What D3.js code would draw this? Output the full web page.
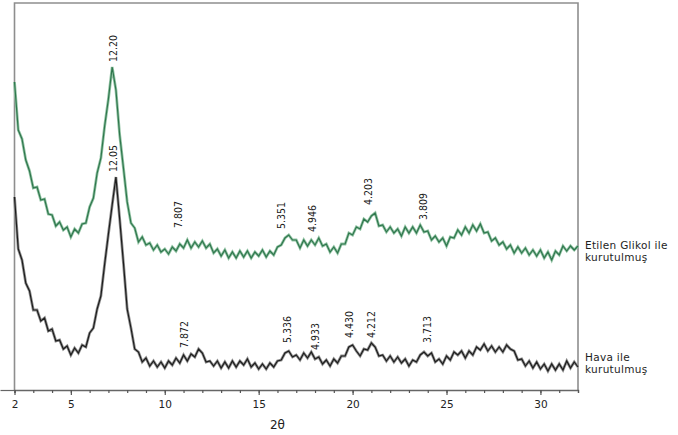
<!DOCTYPE html>
<html>
<head>
<meta charset="utf-8">
<script src="https://cdn.jsdelivr.net/npm/d3@7"></script>
<style>
  html, body { margin: 0; padding: 0; background: #fff; }
  svg { display: block; }
</style>
</head>
<body>
<svg id="chart" width="678" height="435"></svg>
<script>
// 2θ grid, 2.0 .. 32.0 every 0.2 degree
const twoTheta = d3.range(0, 151).map(i => +(2 + i * 0.2).toFixed(1));

// Etilen Glikol ile kurutulmuş (intensity, arbitrary units, stacked)
const glycolCounts = [
  308, 260, 251, 230, 219, 202, 203, 190, 191, 176,
  175, 164, 168, 160, 163, 153, 161, 157, 166, 167,
  183, 192, 217, 232, 264, 291, 323, 300, 255, 222,
  188, 167, 162, 148, 153, 145, 147, 140, 145, 138,
  141, 136, 143, 139, 146, 142, 150, 142, 148, 143,
  149, 142, 146, 137, 141, 134, 140, 132, 138, 132,
  139, 133, 139, 132, 138, 134, 140, 133, 139, 135,
  143, 145, 152, 155, 150, 150, 142, 150, 144, 150,
  145, 152, 144, 146, 138, 143, 137, 146, 146, 157,
  155, 163, 161, 171, 168, 174, 177, 164, 165, 158,
  163, 157, 161, 154, 163, 157, 163, 157, 165, 158,
  159, 150, 154, 148, 152, 144, 153, 152, 160, 155,
  163, 157, 165, 159, 166, 157, 158, 149, 152, 145,
  148, 141, 145, 137, 143, 137, 142, 135, 140, 134,
  140, 132, 138, 130, 139, 135, 144, 139, 144, 140,
  144
];

// Hava ile kurutulmuş
const airCounts = [
  193, 141, 130, 107, 99, 80, 80, 69, 72, 59,
  61, 49, 50, 41, 44, 35, 42, 37, 45, 43,
  57, 62, 81, 94, 126, 156, 185, 213, 171, 127,
  81, 62, 41, 38, 28, 32, 24, 29, 23, 28,
  22, 29, 25, 32, 27, 35, 29, 36, 33, 41,
  37, 28, 29, 24, 29, 22, 28, 22, 29, 23,
  29, 25, 31, 23, 27, 21, 26, 21, 27, 23,
  29, 30, 37, 39, 33, 35, 30, 37, 32, 38,
  31, 33, 26, 30, 24, 31, 27, 34, 34, 43,
  45, 39, 34, 41, 40, 47, 43, 34, 35, 29,
  34, 28, 33, 27, 31, 24, 30, 28, 35, 38,
  34, 37, 28, 31, 26, 34, 30, 38, 35, 39,
  32, 39, 35, 43, 40, 46, 39, 44, 38, 43,
  38, 45, 41, 39, 30, 31, 24, 29, 22, 28,
  21, 26, 19, 26, 20, 26, 20, 29, 22, 28,
  23
];

// d-spacing labels (Å), their 2θ position and the level where each label starts
const glycolPeakText = ["12.20", "7.807", "5.351", "4.946", "4.203", "3.809"];
const glycolPeakPos = [7.25, 10.71, 16.2, 17.85, 20.84, 23.77];
const glycolPeakLevel = [328, 162, 161, 158, 185, 170];

const airPeakText = ["12.05", "7.872", "5.336", "4.933", "4.430", "4.212", "3.713"];
const airPeakPos = [7.27, 11.03, 16.52, 18.01, 19.82, 20.99, 23.98];
const airPeakLevel = [218, 42, 47, 40, 52, 52, 47];

const seriesNames = [["Etilen Glikol ile", "kurutulmuş"], ["Hava ile", "kurutulmuş"]];
const seriesLevel = [141, 29];

const xLabelTicks = [2, 5, 10, 15, 20, 25, 30];
const xMinorTicks = d3.range(2, 33);

const svg = d3.select("#chart");
const m = {left: 14.5, right: 578, top: 3, bottom: 390};

const x = d3.scaleLinear().domain([2, 32]).range([m.left, m.right]);
const y = d3.scaleLinear().domain([0, 387]).range([m.bottom, m.top]);

// frame
svg.append("path")
  .attr("d", `M${m.left},${m.bottom}V${m.top}H${m.right}V${m.bottom}`)
  .attr("fill", "none").attr("stroke", "#8e8e8e").attr("stroke-width", 1.6);

// small tick on the left at the bottom
svg.append("g").attr("transform", `translate(${m.left},0)`)
  .call(d3.axisLeft(y).tickValues([0]).tickSize(14).tickFormat(""))
  .call(g => g.select(".domain").remove())
  .selectAll("line").attr("stroke", "#666").attr("stroke-width", 1.2);

// x axis : minor ticks
svg.append("g").attr("transform", `translate(0,${m.bottom})`)
  .call(d3.axisBottom(x).tickValues(xMinorTicks).tickSize(3).tickFormat(""))
  .call(g => g.select(".domain").attr("stroke", "#666").attr("stroke-width", 1.3))
  .selectAll("line").attr("stroke", "#555").attr("stroke-width", 1.2);

// x axis : labelled ticks
svg.append("g").attr("transform", `translate(0,${m.bottom})`)
  .call(d3.axisBottom(x).tickValues(xLabelTicks).tickSize(5).tickPadding(6).tickFormat(d3.format("d")))
  .call(g => g.select(".domain").remove())
  .call(g => g.selectAll("line").attr("stroke", "#555").attr("stroke-width", 1.2))
  .call(g => g.selectAll("text")
    .attr("font-family", "DejaVu Sans, sans-serif")
    .attr("font-size", 10.5)
    .attr("fill", "#222"));

svg.append("text")
  .attr("x", x(16)).attr("y", 429)
  .attr("text-anchor", "middle")
  .attr("font-family", "DejaVu Sans, sans-serif")
  .attr("font-size", 12)
  .attr("fill", "#222")
  .text("2θ");

const line = d3.line().x((d, i) => x(twoTheta[i])).y(d => y(d));

function drawPattern(values, color, halo) {
  svg.append("path").datum(values)
    .attr("d", line).attr("fill", "none")
    .attr("stroke", halo).attr("stroke-width", 2.8).attr("stroke-linejoin", "miter");
  svg.append("path").datum(values)
    .attr("d", line).attr("fill", "none")
    .attr("stroke", color).attr("stroke-width", 1.2).attr("stroke-linejoin", "miter");
}
drawPattern(glycolCounts, "#2f774d", "#93c4a5");
drawPattern(airCounts, "#1c1c1c", "#909090");

function drawPeakLabels(texts, pos, level) {
  svg.append("g").selectAll("text").data(texts).join("text")
    .attr("transform", (d, i) => `translate(${x(pos[i])},${y(level[i])}) rotate(-90)`)
    .attr("dy", "0.35em")
    .attr("font-family", "Liberation Sans Narrow, DejaVu Sans Condensed, sans-serif")
    .attr("font-stretch", "condensed")
    .attr("font-size", 10.5)
    .attr("fill", "#1a1a1a")
    .text(d => d);
}
drawPeakLabels(glycolPeakText, glycolPeakPos, glycolPeakLevel);
drawPeakLabels(airPeakText, airPeakPos, airPeakLevel);

// series names on the right
seriesNames.forEach((lines, k) => {
  const t = svg.append("text")
    .attr("x", m.right + 7)
    .attr("y", y(seriesLevel[k]))
    .attr("font-family", "DejaVu Sans, sans-serif")
    .attr("font-size", 10.5)
    .attr("letter-spacing", 0.3)
    .attr("fill", "#1e1e1e");
  lines.forEach((s, j) => {
    t.append("tspan").attr("x", m.right + 7).attr("dy", j === 0 ? 0 : 12).text(s);
  });
});
</script>
</body>
</html>
